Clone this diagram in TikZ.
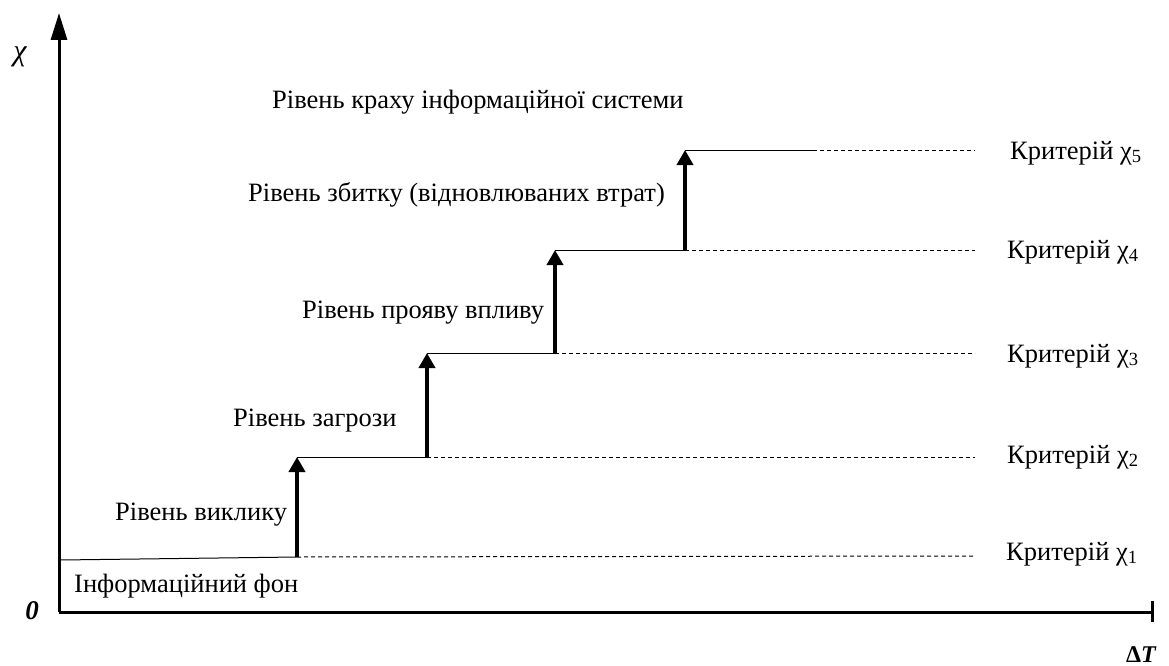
\documentclass[tikz,border=0pt]{standalone}
\usepackage{fontspec}
\setmainfont{Liberation Serif}
\newfontfamily\tnr{Liberation Serif}
\usetikzlibrary{arrows.meta}
\begin{document}
\begin{tikzpicture}[x=1pt,y=-1pt,
  axisline/.style={line width=3pt,-{Triangle[length=27pt,width=16pt]}},
  steparrow/.style={line width=4pt,-{Triangle[length=15pt,width=16pt]}},
  levelline/.style={line width=1pt},
  critline/.style={line width=1pt,dash pattern=on 4pt off 3pt},
  lbl/.style={font=\tnr\fontsize{26.5}{30}\selectfont,inner sep=0pt,anchor=base west},
  ]
\useasboundingbox (0,0) rectangle (1169,666);
% axes
\coordinate (O) at (59,612);
\coordinate (Ytop) at (59,13);
\coordinate (Xend) at (1152,612);
\draw[axisline] (O) -- (Ytop);
\draw[line width=3pt] (O) -- (Xend);
\draw[line width=3pt] (1152,601) -- (1152,622);
\node[lbl,anchor=base,font=\tnr\fontsize{30}{34}\selectfont] (chi) at (20,61) {\itshape χ};
\node[lbl,anchor=base,font=\tnr\fontsize{27}{30}\selectfont] (zero) at (32,619) {\bfseries\itshape 0};
\node[lbl,anchor=base,font=\tnr\fontsize{24}{28}\selectfont] (dT) at (1141,662) {\bfseries Δ\itshape T};
% step points
\coordinate (b0) at (60,560);
\coordinate (a1) at (297,557);
\coordinate (t1) at (297,457);
\coordinate (a2) at (427,457);
\coordinate (t2) at (427,353);
\coordinate (a3) at (555,353);
\coordinate (t3) at (555,250);
\coordinate (a4) at (685,250);
\coordinate (t4) at (685,150);
\coordinate (e5) at (813,150);
% levels
\draw[levelline] (b0) -- (a1);
\draw[levelline] (t1) -- (a2);
\draw[levelline] (t2) -- (a3);
\draw[levelline] (t3) -- (a4);
\draw[levelline] (t4) -- (e5);
% arrows
\draw[steparrow] (a1) -- (t1);
\draw[steparrow] (a2) -- (t2);
\draw[steparrow] (a3) -- (t3);
\draw[steparrow] (a4) -- (t4);
% criterion dashed lines
\coordinate (c1) at (975,556);
\coordinate (c2) at (975,457);
\coordinate (c3) at (975,353);
\coordinate (c4) at (975,250);
\coordinate (c5) at (975,150);
\draw[critline] (a1) -- (c1);
\draw[critline] (a2) -- (c2);
\draw[critline] (a3) -- (c3);
\draw[critline] (a4) -- (c4);
\draw[critline] (e5) -- (c5);
% criterion labels
\node[lbl] (k5) at (1010,159) {Критерій χ\textsubscript{5}};
\node[lbl] (k4) at (1007,258) {Критерій χ\textsubscript{4}};
\node[lbl] (k3) at (1007,362) {Критерій χ\textsubscript{3}};
\node[lbl] (k2) at (1007,463) {Критерій χ\textsubscript{2}};
\node[lbl] (k1) at (1006,560) {Критерій χ\textsubscript{1}};
% level labels
\node[lbl] (l0) at (74,592) {Інформаційний фон};
\node[lbl] (l1) at (115,520) {Рівень виклику};
\node[lbl] (l2) at (233,426) {Рівень загрози};
\node[lbl] (l3) at (302,318) {Рівень прояву впливу};
\node[lbl] (l4) at (248,201) {Рівень збитку (відновлюваних втрат)};
\node[lbl] (l5) at (272,109) {Рівень краху інформаційної системи};
\end{tikzpicture}
\end{document}
